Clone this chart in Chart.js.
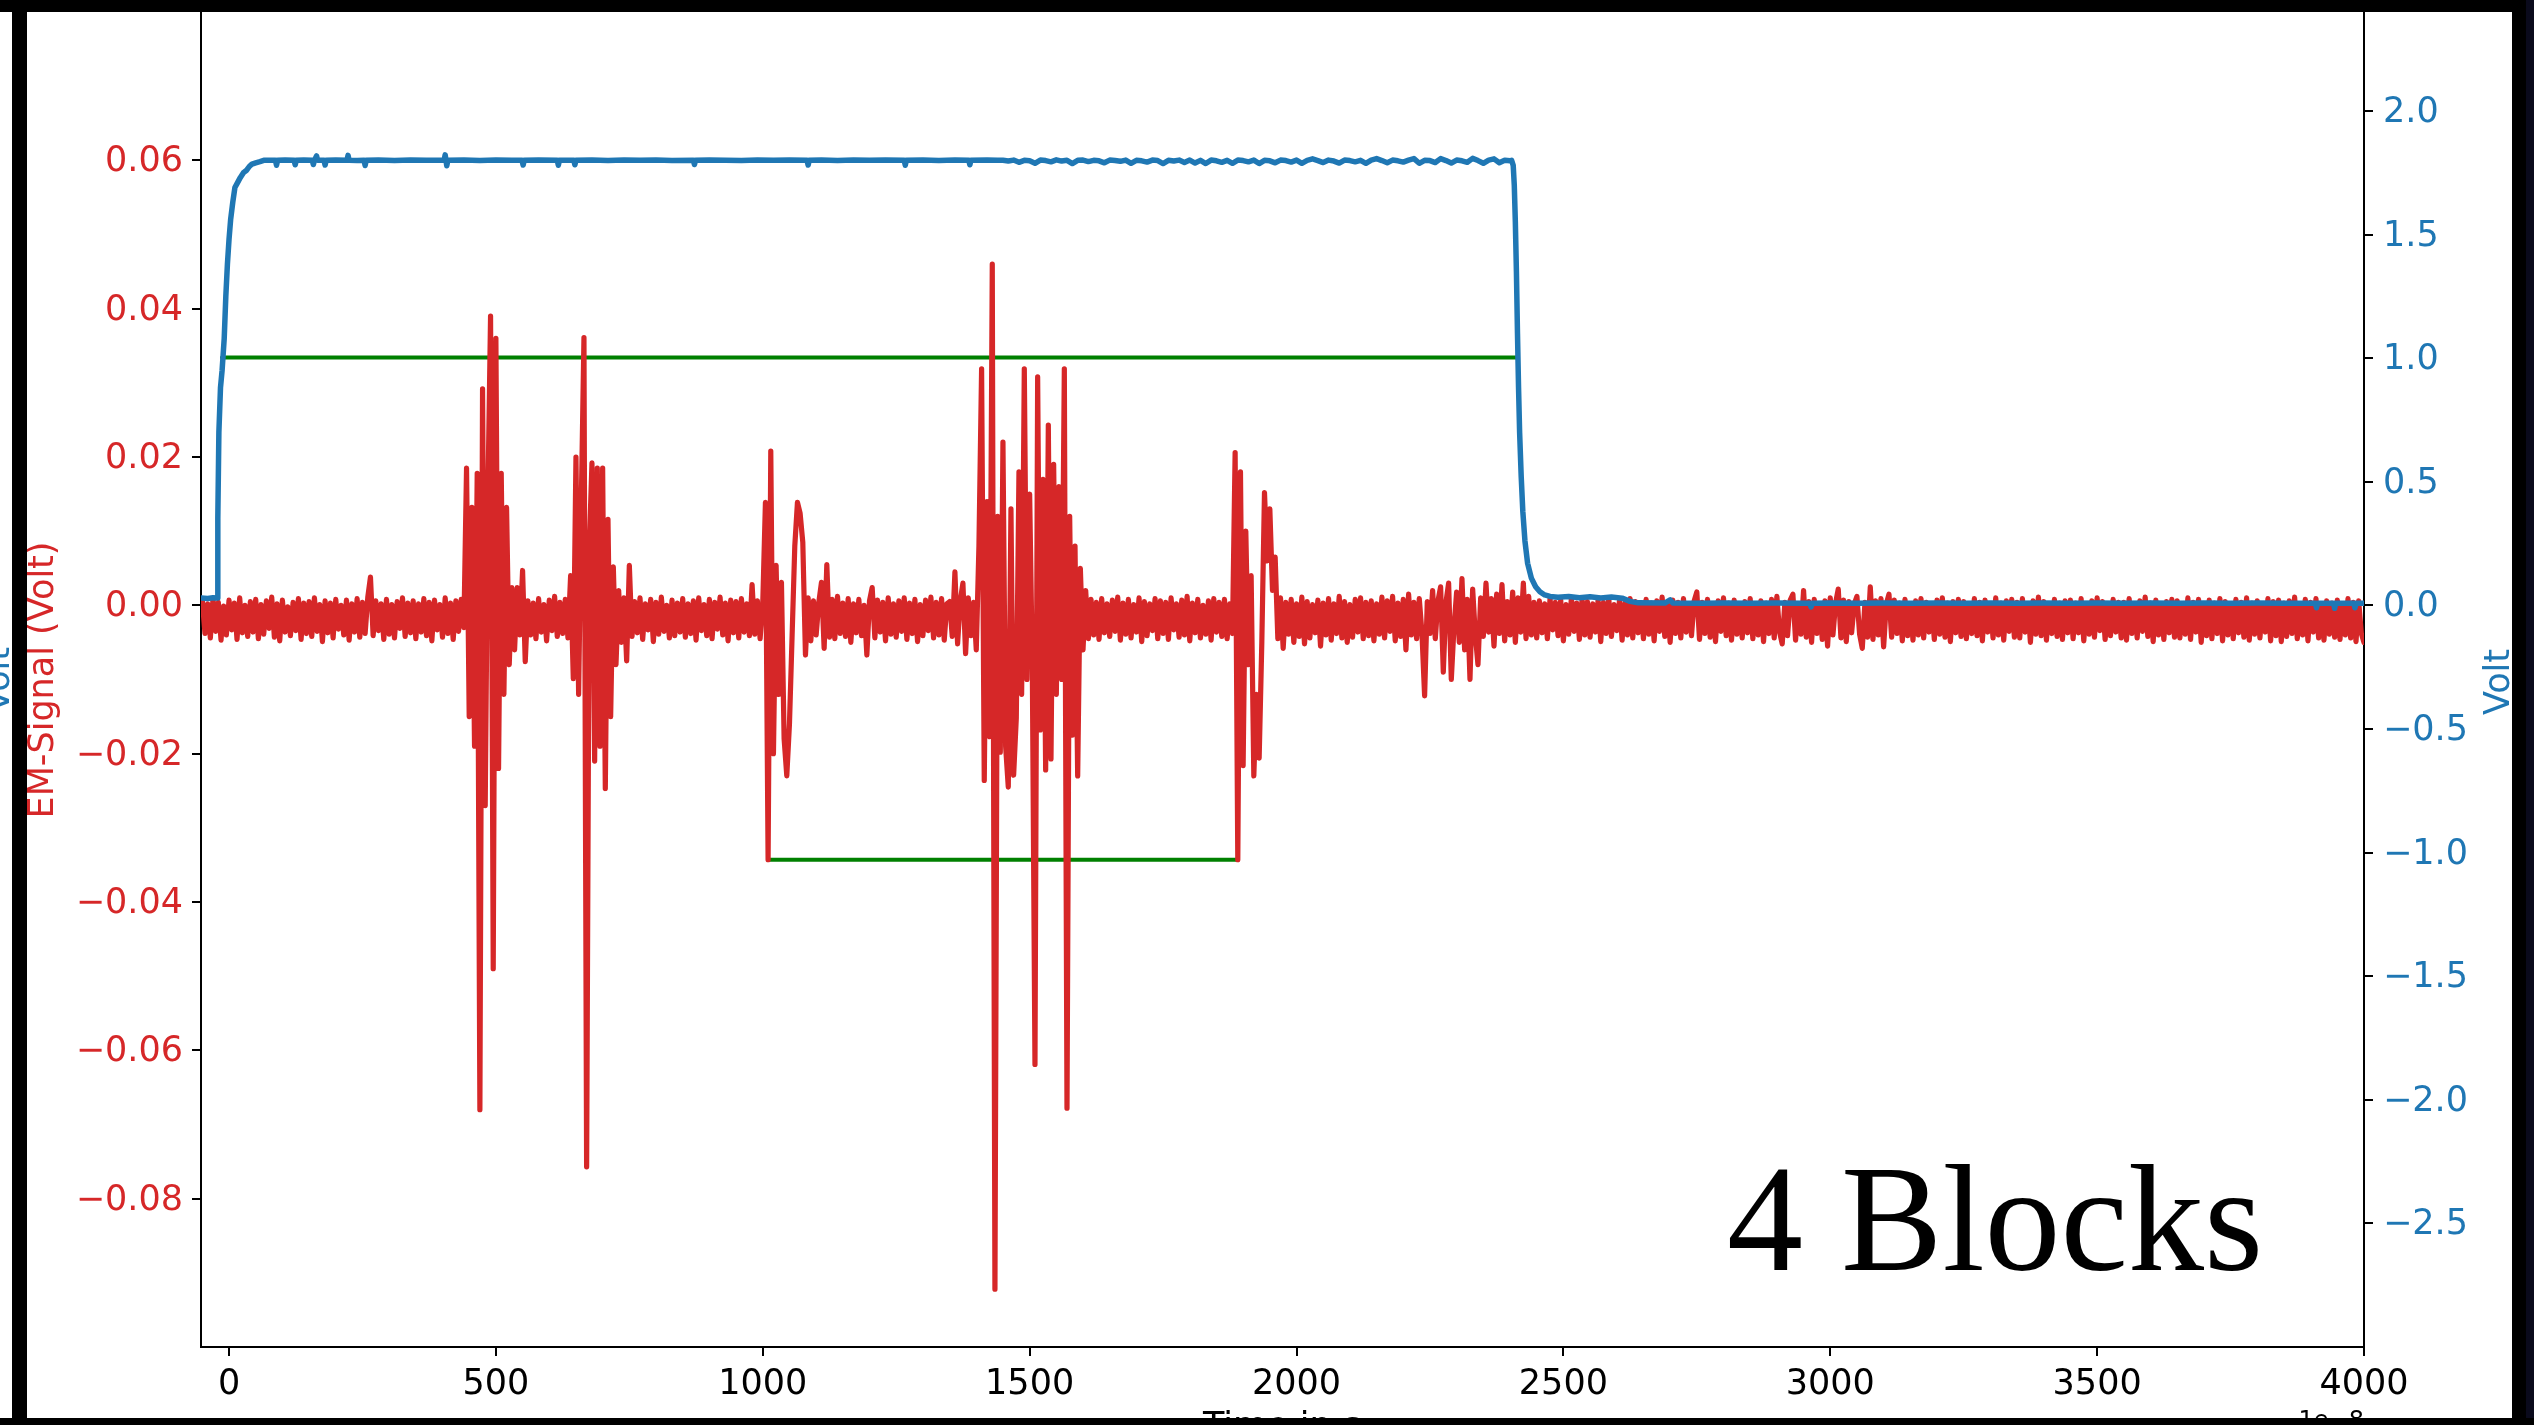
<!DOCTYPE html>
<html><head><meta charset="utf-8">
<script src="https://cdn.jsdelivr.net/npm/chart.js@4.4.1/dist/chart.umd.min.js"></script>
<style>html,body{margin:0;padding:0;background:#fff;overflow:hidden}canvas{display:block}</style>
</head><body>
<canvas id="c" width="2534" height="1425"></canvas>
<script>
// ---- tick values & labels ----
const xTicks = [0, 500, 1000, 1500, 2000, 2500, 3000, 3500, 4000];
const xTickLabels = ['0', '500', '1000', '1500', '2000', '2500', '3000', '3500', '4000'];
const emTicks = [-0.08, -0.06, -0.04, -0.02, 0, 0.02, 0.04, 0.06];
const emTickLabels = ['\u22120.08', '\u22120.06', '\u22120.04', '\u22120.02', '0.00', '0.02', '0.04', '0.06'];
const voltTicks = [-2.5, -2, -1.5, -1, -0.5, 0, 0.5, 1, 1.5, 2];
const voltTickLabels = ['\u22122.5', '\u22122.0', '\u22121.5', '\u22121.0', '\u22120.5', '0.0', '0.5', '1.0', '1.5', '2.0'];

// ---- EM signal (left axis), sampled every 5 time units from -50 ----
const emStart = -50, emStep = 5;
const emSignal = [
.0006,-.0038,.0002,-.0044,.0009,-.0035,.0004,-.0047,-.0001,-.0040,.0007,-.0033,.0003,-.0046,.0010,-.0037,.0000,-.0042,.0005,-.0036,
.0008,-.0045,.0001,-.0039,.0006,-.0031,.0011,-.0043,.0002,-.0048,.0007,-.0036,-.0002,-.0041,.0004,-.0034,.0009,-.0046,.0003,-.0038,
.0005,-.0042,.0010,-.0035,.0001,-.0049,.0006,-.0037,.0003,-.0044,.0008,-.0032,.0000,-.0040,.0007,-.0047,.0002,-.0036,.0009,-.0043,
.0004,-.0038,.0011,.0038,-.0041,.0006,-.0034,.0002,-.0046,.0008,-.0039,.0001,-.0044,.0005,-.0031,.0010,-.0042,.0003,-.0037,.0006,
-.0045,.0002,-.0036,.0009,-.0041,.0004,-.0048,.0007,-.0033,.0001,-.0043,.0010,-.0038,.0003,-.0046,.0006,-.0035,.0008,-.0030,.0185,
-.015,.0132,-.019,.0178,-.068,.0292,-.027,.0146,.039,-.049,.036,-.022,.0178,-.012,.0132,-.008,.0024,-.006,.0024,-.004,
.0047,-.0076,.0006,-.0040,.0003,-.0045,.0009,-.0036,.0001,-.0048,.0007,-.0034,.0012,-.0042,.0004,-.0038,.0008,-.0044,.0040,-.0099,
.020,-.012,.0139,.0361,-.0757,.008,.0192,-.021,.0185,-.019,.0185,-.0247,.0116,-.015,.0052,-.008,.002,-.005,.001,-.0075,
.0054,-.0042,.0005,-.0037,.0010,-.0046,.0002,-.0033,.0008,-.0049,.0004,-.0039,.0011,-.0035,.0000,-.0044,.0007,-.0041,.0003,-.0036,
.0009,-.0043,.0002,-.0038,.0006,-.0047,.0010,-.0034,.0001,-.0041,.0008,-.0045,.0004,-.0032,.0011,-.0040,.0003,-.0048,.0007,-.0037,
.0005,-.0044,.0009,-.0036,.0002,-.0041,.0028,-.0039,.0006,-.0045,.0003,.0139,-.0343,.0208,-.020,.0054,-.012,.0031,-.018,-.023,
-.016,-.004,.008,.0139,.0124,.0085,-.0067,.001,-.0048,.0006,-.0040,.0004,.0031,-.0058,.0055,-.0043,.0008,-.0045,.0012,-.0038,
.0003,-.0042,.0009,-.0050,.0002,-.0037,.0008,-.0041,.0000,-.0067,.0006,.0024,-.0044,.0007,-.0036,.0004,-.0048,.0010,-.0039,.0002,
-.0043,.0006,-.0035,.0010,-.0046,.0003,-.0038,.0008,-.0049,.0001,-.0041,.0007,-.0034,.0011,-.0044,.0004,-.0040,.0009,-.0047,.0002,
.0005,-.0042,.0045,-.0052,.0006,.0030,-.0065,.0010,-.0041,.0004,-.0060,.008,.0319,-.0236,.014,-.0177,.046,-.0922,.012,-.0198,
.022,-.019,-.0245,.013,-.0229,-.0152,.018,-.012,.0319,-.010,.015,-.008,-.0619,.0308,-.0168,.017,-.0222,.0243,-.0207,.019,
-.012,.016,-.010,.0319,-.0678,.012,-.0175,.008,-.023,.005,-.006,.002,-.0045,.0008,-.0040,.0004,-.0046,.0009,-.0037,.0002,
-.0042,.0007,-.0035,.0011,-.0047,.0003,-.0039,.0008,-.0044,.0001,-.0036,.0010,-.0049,.0005,-.0041,.0002,-.0034,.0009,-.0045,.0006,
-.0038,.0004,-.0046,.0010,-.0033,.0002,-.0043,.0007,-.0040,.0012,-.0048,.0003,-.0037,.0008,-.0044,.0000,-.0039,.0006,-.0047,.0009,
-.0036,.0004,-.0042,.0008,-.0045,.0002,-.0038,.0206,-.0343,.018,-.0216,.010,-.008,.004,-.023,-.012,-.0206,-.005,.0152,.006,
.0130,.0020,.0065,-.0045,.0010,-.0058,.0004,-.0039,.0008,-.0050,.0002,-.0042,.0011,-.0052,.0005,-.0044,.0001,-.0037,.0007,-.0055,
.0003,-.0040,.0009,-.0047,.0002,-.0038,.0012,-.0044,.0005,-.0050,.0001,-.0043,.0008,-.0036,.0010,-.0045,.0004,-.0041,.0006,-.0048,
.0002,-.0039,.0011,-.0044,.0006,-.0035,.0012,-.0048,.0003,-.0042,.0008,-.0060,.0015,-.0040,.0004,-.0045,.0009,-.0037,-.0122,.0005,
-.0038,.0020,-.0045,.0006,.0025,-.0090,.0004,.0030,-.0100,-.0030,.0018,-.0050,.0036,-.0060,.0008,-.0100,.0022,-.0040,-.0080,.0010,
-.0042,.0030,-.0036,.0009,-.0055,.0015,-.0038,.0028,-.0048,.0005,-.0040,.0018,-.0050,.0010,-.0036,.0030,-.0045,.0012,-.0040,.0004,
-.0044,.0006,-.0037,.0002,-.0045,.0009,-.0033,.0004,-.0041,.0007,-.0048,.0001,-.0039,.0010,-.0035,.0003,-.0046,.0008,-.0040,.0005,
-.0043,.0002,-.0036,.0007,-.0049,.0004,-.0038,.0010,-.0042,.0001,-.0034,.0006,-.0047,.0003,-.0040,.0009,-.0044,.0005,-.0037,.0000,
-.0045,.0008,-.0039,.0003,-.0048,.0006,-.0035,.0011,-.0042,.0002,-.0050,.0007,-.0038,.0004,-.0044,.0009,-.0036,.0001,-.0041,.0006,
.0018,-.0046,.0004,-.0038,.0008,-.0043,.0002,-.0049,.0006,-.0035,.0010,-.0041,.0003,-.0047,.0007,-.0039,.0001,-.0044,.0005,-.0037,
.0009,-.0045,.0002,-.0040,.0006,-.0049,.0003,-.0038,.0008,-.0044,.0012,-.0036,-.0052,.0004,-.0041,.0007,.0015,-.0047,.0002,-.0039,
.0020,-.0043,.0005,-.0050,.0008,-.0038,.0001,-.0046,.0006,-.0055,.0010,-.0040,.0003,.0022,-.0044,.0007,-.0049,.0005,-.0037,.0002,
.0012,-.0039,-.0058,.0004,-.0043,.0025,-.0046,.0006,-.0040,.0009,-.0056,.0002,.0015,-.0043,.0007,-.0038,.0003,-.0048,.0008,-.0041,
.0002,-.0047,.0006,-.0040,.0009,-.0044,.0004,-.0036,.0001,-.0046,.0007,-.0039,.0010,-.0043,.0003,-.0049,.0005,-.0037,.0008,-.0042,
.0005,-.0045,.0002,-.0038,.0009,-.0041,.0004,-.0048,.0007,-.0036,.0001,-.0044,.0010,-.0040,.0003,-.0047,.0006,-.0035,.0008,-.0043,
.0004,-.0044,.0009,-.0036,.0002,-.0050,.0006,-.0039,.0011,-.0041,.0005,-.0047,.0001,-.0038,.0008,-.0042,.0003,-.0046,.0006,-.0037,
.0007,-.0045,.0003,-.0037,.0009,-.0048,.0002,-.0039,.0006,-.0043,.0010,-.0034,.0005,-.0046,.0001,-.0041,.0008,-.0036,.0004,-.0044,
.0004,-.0047,.0009,-.0038,.0002,-.0044,.0006,-.0035,.0011,-.0042,.0003,-.0049,.0007,-.0040,.0000,-.0046,.0005,-.0037,.0008,-.0043,
.0006,-.0044,.0002,-.0039,.0010,-.0046,.0004,-.0036,.0008,-.0050,.0001,-.0041,.0007,-.0045,.0003,-.0038,.0009,-.0048,.0005,-.0040,
.0002,-.0045,.0008,-.0037,.0004,-.0043,.0010,-.0047,.0003,-.0039,.0006,-.0044,.0001,-.0036,.0009,-.0048,.0005,-.0041,.0007,-.0049,
.0003,-.0042,.0006,-.0038,.0011,-.0045,.0002,-.0040,.0008,-.0048,.0004,-.0036,.0009,-.0044,.0001,-.0047,.0006,-.0039,.0003,-.0043,
.0007,-.0046,.0002,-.0040,.0009,-.0044,.0004,-.0049,.0006,-.0038,-.0050
];

// ---- supply voltage (right axis) ----
const supplyTime = [
-52,-40,-30,-22,-21,-19,-16,-13,-9,-6,-3,0,3,7,11,16,21,27,33,38,43,50,58,65,
75,87,89,91,105,122,124,126,140,156,158,160,164,166,178,180,182,200,221,223,225,240,253,255,257,280,310,340,370,
403,405,408,410,440,470,500,530,549,551,553,580,615,617,619,646,648,650,680,710,740,770,800,830,870,872,874,
900,930,960,990,1020,1050,1083,1085,1087,1110,1140,1170,1200,1230,1265,1267,1269,1300,1330,1360,1386,1388,1390,1420,1440,
1450,1460,1470,1480,1490,1500,1510,1520,1530,1540,1550,1560,1570,1580,1590,1600,1610,1620,1630,1640,
1650,1660,1670,1680,1690,1700,1710,1720,1730,1740,1750,1760,1770,1780,1790,1800,1810,1820,1830,1840,
1850,1860,1870,1880,1890,1900,1910,1920,1930,1940,1950,1960,1970,1980,1990,2000,2010,2020,2030,2040,
2050,2060,2070,2080,2090,2100,2110,2120,2130,2140,2150,2160,2170,2180,2190,2200,2210,2220,2230,2240,
2250,2260,2270,2280,2290,2300,2310,2320,2330,2340,2350,2360,2370,2380,2390,2400,
2403,2406,2408,2410,2412,2414,2416,2418,2421,2424,2428,2433,2440,2448,2456,2465,2475,2490,2510,2530,2550,2570,2590,2610,2625,2640,
2690,2700,2705,2760,2800,2850,2900,2950,2962,2964,2966,3000,3050,3100,3150,3200,3250,3300,3350,3400,3450,3500,3550,3600,3650,3700,3750,3800,3850,
3909,3911,3913,3943,3945,3947,3981,3983,3985,4000
];
const supplyVolt = [
.030,.028,.031,.030,.35,.70,.88,.95,1.08,1.25,1.38,1.48,1.56,1.63,1.69,1.71,1.73,1.75,1.76,1.775,1.785,1.79,1.795,1.80,
1.800,1.800,1.780,1.800,1.801,1.800,1.782,1.800,1.801,1.800,1.783,1.800,1.818,1.800,1.800,1.781,1.800,1.801,1.800,1.820,1.800,1.799,1.800,1.779,1.800,1.801,1.799,1.801,1.800,
1.800,1.822,1.778,1.800,1.801,1.799,1.801,1.800,1.800,1.781,1.800,1.801,1.800,1.780,1.800,1.800,1.782,1.800,1.801,1.799,1.801,1.800,1.801,1.799,1.800,1.783,1.800,
1.801,1.800,1.799,1.801,1.800,1.801,1.800,1.781,1.800,1.801,1.799,1.801,1.800,1.801,1.800,1.780,1.800,1.801,1.799,1.801,1.800,1.782,1.800,1.801,1.800,
1.800,1.797,1.801,1.792,1.800,1.798,1.788,1.801,1.799,1.794,1.802,1.797,1.800,1.787,1.800,1.801,1.795,1.800,1.798,1.790,
1.801,1.799,1.796,1.801,1.788,1.800,1.798,1.793,1.801,1.799,1.787,1.800,1.797,1.801,1.791,1.801,1.789,1.800,1.787,1.801,
1.798,1.792,1.800,1.788,1.801,1.799,1.794,1.801,1.787,1.800,1.798,1.790,1.801,1.799,1.793,1.801,1.788,1.800,1.806,1.799,
1.791,1.801,1.797,1.789,1.801,1.799,1.794,1.800,1.788,1.801,1.807,1.799,1.790,1.801,1.798,1.793,1.801,1.807,1.788,1.800,
1.799,1.791,1.807,1.799,1.789,1.801,1.798,1.792,1.808,1.799,1.788,1.801,1.806,1.790,1.800,1.798,
1.800,1.780,1.700,1.550,1.350,1.100,.880,.700,.520,.380,.260,.170,.110,.075,.055,.042,.036,.033,.036,.031,.035,.030,.034,.029,.016,.010,
.009,.022,.009,.008,.009,.008,.009,.008,.008,-.006,.008,.009,.008,.009,.008,.009,.008,.009,.008,.009,.008,.009,.008,.009,.008,.009,.008,.009,.008,
.008,-.010,.008,.008,-.012,.008,.008,-.010,.008,.008
];

// ---- block indicator levels (left axis) ----
const blockHighTime = [-13, 2414];
const blockHighLevel = [0.0334, 0.0334];
const blockLowTime = [1010, 1890];
const blockLowLevel = [-0.0343, -0.0343];

const pairs = (ts, vs) => ts.map((t, i) => ({x: t, y: vs[i]}));
const emPoints = emSignal.map((v, i) => ({x: emStart + i * emStep, y: v}));

const FONT = '"DejaVu Sans"';
Chart.defaults.font.family = FONT;
Chart.defaults.font.size = 35;

const texts = {
  id: 'texts',
  afterDraw(chart) {
    const c = chart.ctx;
    c.save();
    const vtext = (s, x, y, color) => {
      c.save(); c.translate(x, y); c.rotate(-Math.PI / 2);
      c.font = '35px ' + FONT; c.fillStyle = color;
      c.textAlign = 'center'; c.textBaseline = 'alphabetic';
      c.fillText(s, 0, 0); c.restore();
    };
    vtext('EM-Signal (Volt)', 53, 680, '#d62728');
    vtext('Volt', 2509, 682, '#1f77b4');
    vtext('Volt', 9, 680, '#1f77b4');
    c.fillStyle = '#000'; c.textBaseline = 'alphabetic';
    c.font = '35px ' + FONT; c.textAlign = 'center'; c.fillText('Time in s', 1282, 1437);
    c.font = '24px ' + FONT; c.textAlign = 'right'; c.fillText('1e\u22128', 2364, 1428);
    c.font = '152px "Liberation Serif"'; c.textAlign = 'left';
    c.fillText('4 Blocks', 1727, 1270);
    // frame
    c.fillStyle = '#000';
    c.fillRect(0, 0, 2534, 12);
    c.fillRect(12, 0, 15, 1425);
    c.fillRect(0, 1418, 2534, 7);
    c.fillRect(2512, 0, 22, 1425);
    c.fillStyle = '#0a0a1c';
    c.fillRect(2526, 0, 8, 1418);
    c.restore();
  }
};

const tickGrid = {display: true, drawOnChartArea: false, drawTicks: true, tickLength: 9, tickWidth: 2, tickColor: '#000', lineWidth: 2};
const border = {display: true, color: '#000', width: 2};

new Chart(document.getElementById('c'), {
  type: 'line',
  data: {
    datasets: [
      {label: 'Volt', data: pairs(supplyTime, supplyVolt), yAxisID: 'yR', borderColor: '#1f77b4', borderWidth: 5.5, order: 0},
      {label: 'EM-Signal (Volt)', data: emPoints, yAxisID: 'yL', borderColor: '#d62728', borderWidth: 5.2, order: 1},
      {label: 'Blocks high', data: pairs(blockHighTime, blockHighLevel), yAxisID: 'yL', borderColor: '#008000', borderWidth: 4, order: 2},
      {label: 'Blocks low', data: pairs(blockLowTime, blockLowLevel), yAxisID: 'yL', borderColor: '#008000', borderWidth: 4, order: 2}
    ]
  },
  options: {
    responsive: false, animation: false, devicePixelRatio: 1, events: [],
    layout: {padding: {top: 12, left: 0, right: 0, bottom: 0}},
    elements: {point: {radius: 0, hoverRadius: 0}, line: {tension: 0, fill: false, borderJoinStyle: 'round', borderCapStyle: 'round'}},
    plugins: {legend: {display: false}, tooltip: {enabled: false}},
    scales: {
      x: {
        type: 'linear', position: 'bottom', min: -52.5, max: 4000,
        afterBuildTicks: s => { s.ticks = xTicks.map(v => ({value: v})); },
        afterFit: s => { s.height = 78; s.paddingLeft = 0; s.paddingRight = 0; },
        ticks: {callback: (v, i) => xTickLabels[i], color: '#000', padding: 8, maxRotation: 0, minRotation: 0, autoSkip: false},
        grid: tickGrid, border: border
      },
      yL: {
        type: 'linear', position: 'left', min: -0.1, max: 0.08,
        afterBuildTicks: s => { s.ticks = emTicks.map(v => ({value: v})); },
        afterFit: s => { s.width = 201; s.paddingTop = 0; s.paddingBottom = 0; },
        ticks: {callback: (v, i) => emTickLabels[i], color: '#d62728', padding: 9, labelOffset: 2, autoSkip: false},
        grid: tickGrid, border: border
      },
      yR: {
        type: 'linear', position: 'right', min: -3.0, max: 2.4,
        afterBuildTicks: s => { s.ticks = voltTicks.map(v => ({value: v})); },
        afterFit: s => { s.width = 170; s.paddingTop = 0; s.paddingBottom = 0; },
        ticks: {callback: (v, i) => voltTickLabels[i], color: '#1f77b4', padding: 10, labelOffset: 2, autoSkip: false},
        grid: tickGrid, border: border
      }
    }
  },
  plugins: [texts]
});
</script>
</body></html>
